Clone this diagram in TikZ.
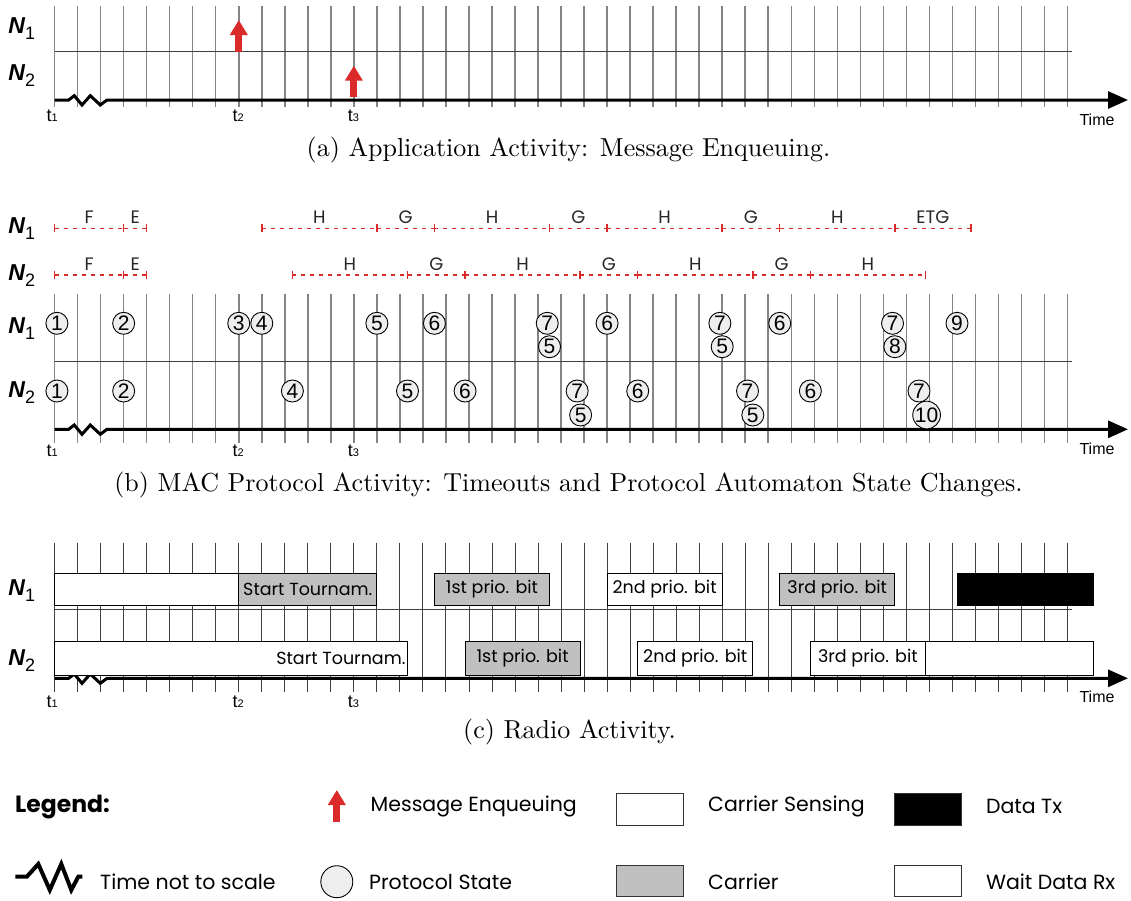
\documentclass[tikz,border=0pt]{standalone}
\usepackage{fontspec}
\usetikzlibrary{arrows.meta}
\newfontfamily\arialf{Liberation Sans}
\newfontfamily\gothic{Poppins}
\newfontfamily\capfont{lmroman10-regular}[Extension=.otf]
\definecolor{gridgray}{HTML}{858585}
\definecolor{mred}{HTML}{DA2A2A}
\definecolor{carrier}{HTML}{C0C0C0}
\definecolor{statefill}{HTML}{EEEEEE}
\definecolor{sepcol}{HTML}{404040}
\newcommand\XX[1]{54.6+23.02*(#1)}
\newcommand\NL[1]{{\bfseries\itshape N}\raisebox{-6pt}{\fontsize{18}{18}\selectfont #1}}
\newcommand\TL[1]{t{\fontsize{11}{11}\selectfont #1}}
% timer segment: name, from, to, y, label
\newcommand\tmrseg[5]{%
  \coordinate (#1-s) at ({\XX{#2}},#4);
  \coordinate (#1-e) at ({\XX{#3}},#4);
  \draw[tmr] (#1-s) -- (#1-e);
  \draw[tickm] ([yshift=4pt]#1-s) -- ([yshift=-4pt]#1-s);
  \draw[tickm] ([yshift=4pt]#1-e) -- ([yshift=-4pt]#1-e);
  \node[tmrlab] (#1-l) at ({(\XX{#2}+\XX{#3})/2},#4-4.5) {#5};}
% state circle: name, idx, y, text
\newcommand\st[4]{\node[state] (#1) at ({\XX{#2}},#3) {#4};}
% radio box: name, from, to, top, height, fill, text
\newcommand\rb[7]{\node[rbox, fill=#6, minimum width={23.02*((#3)-(#2))}, minimum height=#5] (#1) at ({\XX{#2}},#4) {#7};}
\begin{document}
\begin{tikzpicture}[x=1pt,y=-1pt,
  gl/.style={draw=gridgray,line width=1.5pt},
  glc/.style={draw=black!75,line width=0.9pt},
  sep/.style={draw=sepcol,line width=1pt},
  axisln/.style={line width=3pt, line join=miter, -{Triangle[length=20pt,width=17pt]}},
  nlab/.style={anchor=base west, inner sep=0pt, font=\arialf\fontsize{23}{23}\selectfont},
  tlab/.style={anchor=base, inner sep=0pt, font=\arialf\fontsize{18}{18}\selectfont},
  timelab/.style={inner sep=0pt, font=\arialf\fontsize{16}{16}\selectfont},
  captxt/.style={anchor=base, inner sep=0pt, font=\capfont\fontsize{26}{26}\selectfont},
  state/.style={circle, draw=black, line width=0.9pt, fill=statefill, minimum size=22pt, inner sep=0pt, font=\arialf\fontsize{21}{21}\selectfont},
  tmr/.style={draw=mred, line width=1.5pt, dash pattern=on 4pt off 5pt},
  tickm/.style={draw=mred, line width=1.5pt},
  tmrlab/.style={anchor=base, inner sep=0pt, font=\gothic\fontsize{18}{18}\selectfont, text=black!85},
  rbox/.style={draw=black, line width=1pt, inner sep=0pt, outer sep=0pt, anchor=north west, font=\gothic\fontsize{17.5}{17.5}\selectfont},
  msg/.style={mred, line width=7pt, -{Triangle[length=15pt,width=17pt]}},
  legtxt/.style={anchor=west, inner sep=0pt, font=\gothic\fontsize{20.5}{20.5}\selectfont},
  legbox/.style={draw=black!80, line width=1pt, minimum width=66.8pt, minimum height=31.7pt, inner sep=0pt, outer sep=0pt, anchor=north west}
]
\useasboundingbox[fill=white] (0,0) rectangle (1131,900);

% ================= Panel (a) =================
\foreach \i in {0,...,44} \draw[gl] ({\XX{\i}},6) -- ({\XX{\i}},107.3);
\coordinate (a-sepl) at ({\XX{0}},51.7);
\coordinate (a-sepr) at (1072,51.7);
\draw[sep] (a-sepl) -- (a-sepr);
\coordinate (a-ax0) at ({\XX{0}},100);
\coordinate (a-ax1) at (1128,100);
\draw[axisln] (a-ax0) -- ++(14,0) -- ++(5.7,-4.3) -- ++(7.7,9.3) -- ++(8.3,-9.3) -- ++(10,9.3) -- ++(6.7,-5) -- (a-ax1);
\coordinate (a-m1b) at ({\XX{8}},51.7);
\coordinate (a-m1t) at ({\XX{8}},20);
\draw[msg] (a-m1b) -- (a-m1t);
\coordinate (a-m2b) at ({\XX{13}},96.7);
\coordinate (a-m2t) at ({\XX{13}},65.7);
\draw[msg] (a-m2b) -- (a-m2t);
\node[nlab] (a-n1) at (8.3,33) {\NL{1}};
\node[nlab] (a-n2) at (8.3,80) {\NL{2}};
\node[tlab] (a-t1) at ({\XX{0}-2.5},121.7) {\TL{1}};
\node[tlab] (a-t2) at ({\XX{8}-0.5},121.7) {\TL{2}};
\node[tlab] (a-t3) at ({\XX{13}-0.5},121.7) {\TL{3}};
\node[timelab] (a-time) at (1097,120) {Time};
\node[captxt] (a-cap) at (568.5,156) {(a) Application Activity: Message Enqueuing.};

% ================= Panel (b) =================
\node[nlab] (b-tn1) at (8.3,233.3) {\NL{1}};
\node[nlab] (b-tn2) at (8.3,280) {\NL{2}};
% N1 timers
\tmrseg{b1f}{0}{3}{228.3}{F}
\tmrseg{b1e}{3}{4}{228.3}{E}
\tmrseg{b1h1}{9}{14}{228.3}{H}
\tmrseg{b1g1}{14}{16.5}{228.3}{G}
\tmrseg{b1h2}{16.5}{21.5}{228.3}{H}
\tmrseg{b1g2}{21.5}{24}{228.3}{G}
\tmrseg{b1h3}{24}{29}{228.3}{H}
\tmrseg{b1g3}{29}{31.5}{228.3}{G}
\tmrseg{b1h4}{31.5}{36.5}{228.3}{H}
\tmrseg{b1etg}{36.5}{39.8}{228.3}{ETG}
% N2 timers
\tmrseg{b2f}{0}{3}{275}{F}
\tmrseg{b2e}{3}{4}{275}{E}
\tmrseg{b2h1}{10.33}{15.33}{275}{H}
\tmrseg{b2g1}{15.33}{17.83}{275}{G}
\tmrseg{b2h2}{17.83}{22.83}{275}{H}
\tmrseg{b2g2}{22.83}{25.33}{275}{G}
\tmrseg{b2h3}{25.33}{30.33}{275}{H}
\tmrseg{b2g3}{30.33}{32.83}{275}{G}
\tmrseg{b2h4}{32.83}{37.83}{275}{H}

\foreach \i in {0,...,44} \draw[gl] ({\XX{\i}},294) -- ({\XX{\i}},442.7);
\coordinate (b-sepl) at ({\XX{0}},361);
\coordinate (b-sepr) at (1072,361);
\draw[sep] (b-sepl) -- (b-sepr);
\coordinate (b-ax0) at ({\XX{0}},429.3);
\coordinate (b-ax1) at (1128,429.3);
\draw[axisln] (b-ax0) -- ++(14,0) -- ++(5.7,-4.3) -- ++(7.7,9.3) -- ++(8.3,-9.3) -- ++(10,9.3) -- ++(6.7,-5) -- (b-ax1);
\node[nlab] (b-n1) at (8.3,333.3) {\NL{1}};
\node[nlab] (b-n2) at (8.3,397) {\NL{2}};
% N1 states
\st{s1a}{0.1}{323.3}{1}
\st{s1b}{3}{323.3}{2}
\st{s1c}{8}{323.3}{3}
\st{s1d}{9}{323.3}{4}
\st{s1e}{14}{323.3}{5}
\st{s1f}{16.5}{323.3}{6}
\st{s1g}{21.4}{323.3}{7}
\st{s1h}{21.5}{346.7}{5}
\st{s1i}{24}{323.3}{6}
\st{s1j}{28.9}{323.3}{7}
\st{s1k}{29}{346.7}{5}
\st{s1l}{31.5}{323.3}{6}
\st{s1m}{36.4}{323.3}{7}
\st{s1n}{36.5}{346.7}{8}
\st{s1o}{39.2}{323.3}{9}
% N2 states
\st{s2a}{0.1}{391}{1}
\st{s2b}{3}{391}{2}
\st{s2c}{10.33}{391}{4}
\st{s2d}{15.33}{391}{5}
\st{s2e}{17.83}{391}{6}
\st{s2f}{22.7}{391}{7}
\st{s2g}{22.85}{415}{5}
\st{s2h}{25.33}{391}{6}
\st{s2i}{30.1}{391}{7}
\st{s2j}{30.33}{415}{5}
\st{s2k}{32.83}{391}{6}
\st{s2l}{37.55}{391}{7}
\st{s2m}{37.88}{415}{10}
\node[tlab] (b-t1) at ({\XX{0}-2.5},456.7) {\TL{1}};
\node[tlab] (b-t2) at ({\XX{8}-0.5},456.7) {\TL{2}};
\node[tlab] (b-t3) at ({\XX{13}-0.5},456.7) {\TL{3}};
\node[timelab] (b-time) at (1097,448.3) {Time};
\node[captxt] (b-cap) at (568.5,491) {(b) MAC Protocol Activity: Timeouts and Protocol Automaton State Changes.};

% ================= Panel (c) =================
\foreach \i in {0,...,44} \draw[glc] ({\XX{\i}},542.7) -- ({\XX{\i}},691.7);
\coordinate (c-sepl) at ({\XX{0}},609.3);
\coordinate (c-sepr) at (1072,609.3);
\draw[sep] (c-sepl) -- (c-sepr);
\coordinate (c-ax0) at ({\XX{0}},678.3);
\coordinate (c-ax1) at (1128,678.3);
\draw[axisln] (c-ax0) -- ++(14,0) -- ++(5.7,-4.3) -- ++(7.7,9.3) -- ++(8.3,-9.3) -- ++(10,9.3) -- ++(6.7,-5) -- (c-ax1);
% N1 boxes
\rb{c1cs}{0}{8}{573.3}{32}{white}{}
\rb{c1st}{8}{14}{573.3}{32}{carrier}{Start Tournam.}
\rb{c1p1}{16.5}{21.5}{573.3}{32}{carrier}{1st prio. bit}
\rb{c1p2}{24}{29}{573.3}{32}{white}{2nd prio. bit}
\rb{c1p3}{31.5}{36.5}{573.3}{32}{carrier}{3rd prio. bit}
\rb{c1tx}{39.2}{45.13}{573.3}{32}{black}{}
% N2 boxes
\rb{c2st}{0}{15.33}{641.7}{33.3}{white}{}
\node[rbox, anchor=east, draw=none] (c2stl) at ([xshift=-2pt]c2st.east) {Start Tournam.};
\rb{c2p1}{17.83}{22.83}{641.7}{33.3}{carrier}{1st prio. bit}
\rb{c2p2}{25.33}{30.33}{641.7}{33.3}{white}{2nd prio. bit}
\rb{c2p3}{32.83}{37.83}{641.7}{33.3}{white}{3rd prio. bit}
\rb{c2rx}{37.83}{45.13}{641.7}{33.3}{white}{}
\node[nlab] (c-n1) at (8.3,595) {\NL{1}};
\node[nlab] (c-n2) at (8.3,665) {\NL{2}};
\node[tlab] (c-t1) at ({\XX{0}-2.5},707) {\TL{1}};
\node[tlab] (c-t2) at ({\XX{8}-0.5},707) {\TL{2}};
\node[tlab] (c-t3) at ({\XX{13}-0.5},707) {\TL{3}};
\node[timelab] (c-time) at (1097,696.7) {Time};
\node[captxt] (c-cap) at (569.5,738) {(c) Radio Activity.};

% ================= Legend =================
\node[anchor=west, inner sep=0pt, font=\gothic\bfseries\fontsize{23.5}{23.5}\selectfont] (leg) at (15,806.7) {Legend:};
\coordinate (lg-mb) at (336.8,821.7);
\coordinate (lg-mt) at (336.8,790);
\draw[msg] (lg-mb) -- (lg-mt);
\node[legtxt] (lg-msg) at (370.5,806.7) {Message Enqueuing};
\node[legbox, fill=white] (lg-cs) at (616.9,793.3) {};
\node[legtxt] (lg-cst) at (708,806.7) {Carrier Sensing};
\node[legbox, fill=black] (lg-tx) at (894.5,793.3) {};
\node[legtxt] (lg-txt) at (985.8,806.7) {Data Tx};
\coordinate (lg-z0) at (15.3,876.7);
\draw[line width=4pt, line join=miter] (lg-z0) -- ++(11.5,0) -- ++(11.5,-12.7) -- ++(11.5,26) -- ++(11.5,-26) -- ++(10,26) -- ++(7,-13.3) -- ++(4,0);
\node[legtxt] (lg-zz) at (100,881.7) {Time not to scale};
\node[state, minimum size=32pt] (lg-st) at (336.8,881.7) {};
\node[legtxt] (lg-stt) at (369,881.7) {Protocol State};
\node[legbox, fill=carrier] (lg-ca) at (616.9,865) {};
\node[legtxt] (lg-cat) at (708,881.7) {Carrier};
\node[legbox, fill=white] (lg-rx) at (894.5,865) {};
\node[legtxt] (lg-rxt) at (985.8,881.7) {Wait Data Rx};
\end{tikzpicture}
\end{document}
